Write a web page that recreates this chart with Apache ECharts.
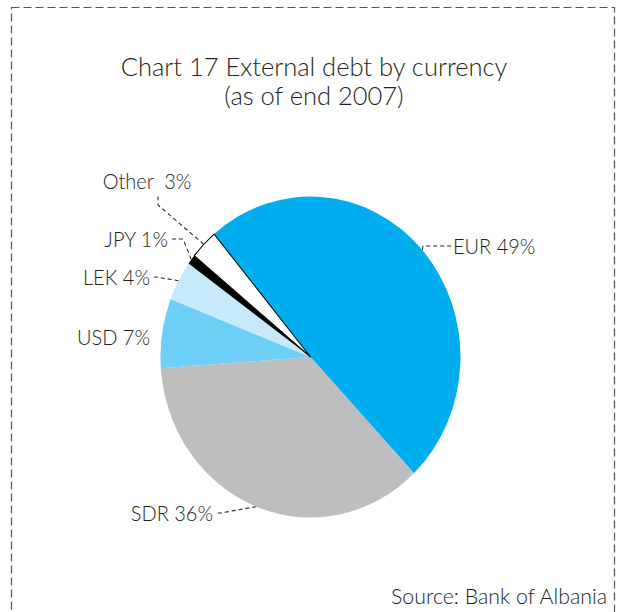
<!DOCTYPE html>
<html>
<head>
<meta charset="utf-8">
<script src="https://cdn.jsdelivr.net/npm/echarts@6/dist/echarts.min.js"></script>
<style>
html,body{margin:0;padding:0;background:#fff;}
#wrap{position:relative;width:621px;height:612px;overflow:hidden;}
#base,#pie{position:absolute;left:0;top:0;width:621px;height:612px;}
#pie{transform:scaleY(1.07);transform-origin:310.5px 357px;}
</style>
</head>
<body>
<div id="wrap"><div id="base"></div><div id="pie"></div></div>
<script>
// ---- data ----
const categories = ['EUR', 'SDR', 'USD', 'LEK', 'JPY', 'Other'];
const values = [49, 36, 7, 4, 1, 3];
const titleLines = ['Chart 17 External debt by currency', '(as of end 2007)'];
const sourceText = 'Source: Bank of Albania';

// ---- styles / layout ----
const colors = ['#00AEEF', '#BCBEC0', '#6DCFF6', '#C7EAFB', '#000000', '#FFFFFF'];
const FONT = 'Lato';
const WEIGHT = 300;
const TEXT = '#231F20';
const CX = 310.5, CY = 357, R = 150, K = 1.07;
// label placement in screen pixels (text centre y), converted to the unscaled pie layer
const placement = {
  EUR:   {x: 451, y: 246, align: 'left',   pad: [0, 0, 0, 2],  len2: 28, line: true},
  SDR:   {x: 216, y: 513, align: 'right',  pad: [0, 3, 0, 0],  len2: 5,  line: true},
  USD:   {x: 150, y: 337, align: 'right',  pad: [0, 0, 0, 0],  len2: 0,  line: false},
  LEK:   {x: 152, y: 277, align: 'right',  pad: [0, 2, 0, 0],  len2: 4,  line: true},
  JPY:   {x: 172, y: 239, align: 'right',  pad: [0, 4, 0, 0],  len2: 11, line: true},
  Other: {x: 158, y: 175, align: 'center', pad: [0, 22, 10, 0], len2: 8, line: true}
};
function toPie(y) { return CY + (y - CY) / K; }

const base = echarts.init(document.getElementById('base'), null, {renderer: 'svg'});
base.setOption({
  backgroundColor: '#fff',
  animation: false,
  title: {
    text: titleLines.join('\n'),
    left: 309, top: 46, textAlign: 'center',
    textStyle: {fontFamily: FONT, fontSize: 25.5, fontWeight: WEIGHT, color: TEXT, lineHeight: 29}
  },
  graphic: [
    {type: 'rect', shape: {x: 11.5, y: 7.5, width: 603, height: 700},
     style: {fill: 'none', stroke: '#555', lineWidth: 1.2, lineDash: [8, 4]}},
    {type: 'text', x: 607, y: 596,
     style: {text: sourceText, fontFamily: FONT, fontSize: 21.3, fontWeight: WEIGHT, fill: TEXT, align: 'right', verticalAlign: 'middle'}}
  ]
});

const pieData = categories.map((c, i) => {
  const p = placement[c];
  return {
    name: c, value: values[i],
    itemStyle: {color: colors[i], borderColor: c === 'Other' ? '#000' : colors[i], borderWidth: c === 'Other' ? 1 : 0},
    label: {padding: p.pad},
    labelLine: {show: p.line, length: 0, length2: p.len2}
  };
});

const pie = echarts.init(document.getElementById('pie'), null, {renderer: 'svg'});
pie.setOption({
  animation: false,
  series: [{
    type: 'pie',
    center: [CX, CY],
    radius: R,
    startAngle: 130,
    clockwise: true,
    avoidLabelOverlap: false,
    silent: true,
    data: pieData,
    label: {
      show: true, position: 'outside',
      fontFamily: FONT, fontSize: 20, fontWeight: WEIGHT, color: TEXT,
      backgroundColor: 'rgba(0,0,0,0)',
      formatter: p => p.name + (p.name === 'Other' ? '  ' : ' ') + p.value + '%'
    },
    labelLine: {
      show: true, length: 0, minTurnAngle: 0,
      lineStyle: {color: TEXT, width: 1, type: [4, 3]}
    },
    labelLayout: function (params) {
      const p = placement[categories[params.dataIndex]];
      const extra = (p.pad[2] - p.pad[0]) / 2;
      return {x: p.x, y: toPie(p.y) + extra, align: p.align, verticalAlign: 'middle'};
    }
  }]
});
</script>
</body>
</html>
